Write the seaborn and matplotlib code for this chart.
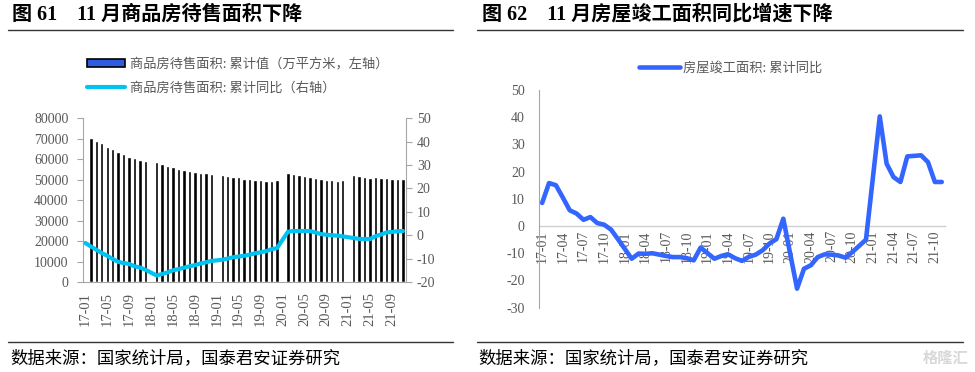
import numpy as np
import pandas as pd
import seaborn as sns
import matplotlib
matplotlib.use("Agg")
import matplotlib.pyplot as plt
from matplotlib.lines import Line2D
from matplotlib.patches import Patch

nan = np.nan

# 17-01 ... 21-11
months = [f"{y}-{m:02d}" for y in range(17, 22) for m in range(1, 13)][:59]

# 商品房待售面积: 累计值 (万平方米)
stock = [
    nan, 70500, 69100, 67800, 66200, 64900, 63700, 62600, 61300, 60400, 59800, 59000,
    nan, 58500, 57500, 56900, 56100, 55200, 54700, 54200, 53700, 53200, 53200, 52800,
    nan, 52400, 51800, 51400, 51200, 50300, 50200, 50000, 49700, 49500, 49500, 50000,
    nan, 53100, 52800, 52400, 52000, 51300, 51000, 50300, 50000, 49700, 49500, 49800,
    nan, 52400, 51800, 51500, 51000, 51100, 51000, 50700, 50300, 50200, 50200,
]

# 商品房待售面积: 累计同比 (%)
stock_yoy = [
    -3.3, -4.8, -6.2, -7.6, -8.8, -10.2, -11.4, -11.9, -12.3, -13.3, -13.8, -14.8,
    nan, -17.2, -16.6, -15.9, -15.0, -14.5, -13.9, -13.3, -12.8, -12.1, -11.6, -11.0,
    nan, -10.5, -10.0, -9.4, -9.1, -8.8, -8.3, -7.7, -7.3, -6.8, -6.0, -5.5,
    nan, 1.5, 1.8, 1.8, 1.8, 1.8, 1.2, 0.5, 0.2, 0.0, -0.2, -0.5,
    nan, -1.2, -1.6, -1.6, -1.6, -0.4, 0.3, 1.2, 1.4, 1.7, 1.8,
]

# 房屋竣工面积: 累计同比 (%)
completed_yoy = [
    8.5, 15.8, 15.0, 10.5, 5.8, 4.6, 2.3, 3.3, 1.1, 0.5, -1.3, -4.8,
    nan, -12.0, -10.1, -10.2, -10.0, -10.5, -11.0, -11.4, -11.4, -11.8, -12.6, -7.9,
    nan, -12.0, -11.0, -10.4, -11.8, -12.8, -11.3, -10.5, -8.9, -6.4, -4.8, 2.7,
    nan, -23.0, -15.7, -14.4, -11.4, -10.4, -10.5, -10.8, -11.6, -9.6, -7.3, -5.0,
    nan, 40.3, 22.9, 18.0, 16.2, 25.6, 25.8, 26.0, 23.5, 16.2, 16.2,
]

left_title = "图 61    11 月商品房待售面积下降"
right_title = "图 62    11 月房屋竣工面积同比增速下降"
bar_label = "商品房待售面积: 累计值（万平方米，左轴）"
line_label = "商品房待售面积: 累计同比（右轴）"
right_label = "房屋竣工面积: 累计同比"
source = "数据来源：国家统计局，国泰君安证券研究"

sns.set_style("white")
cjk = ["Noto Sans CJK SC", "DejaVu Sans"]
serif_cjk = ["Liberation Serif", "Noto Sans CJK SC"]
plt.rcParams["font.family"] = cjk
plt.rcParams["axes.unicode_minus"] = False

GRAY = "#595959"
SPINE = "#A6A6A6"
CYAN = "#00C3F2"
BLUE = "#3366FF"

df = pd.DataFrame({"month": months, "k": np.arange(len(months)),
                   "stock": stock, "stock_yoy": stock_yoy,
                   "completed_yoy": completed_yoy})

W, H = 975, 372
fig = plt.figure(figsize=(W / 100, H / 100), dpi=100)


def fx(px):
    return px / W


def fy(py):
    return 1 - py / H


def style_ticks(ax):
    for lab in ax.get_xticklabels() + ax.get_yticklabels():
        lab.set_family(["Liberation Serif"])
        lab.set_color(GRAY)


# ---------------- left chart ----------------
ax = fig.add_axes([fx(82.6), fy(282), fx(405.7) - fx(82.6), fy(118.3) - fy(282)])
sns.barplot(data=df.dropna(subset=["stock"]), x="month", y="stock", order=months,
            color="black", saturation=1, width=0.62, ax=ax)
ax.set_xlim(-0.5, 58.5)
ax.set_ylim(0, 80000)
ax.set_yticks(range(0, 80001, 10000))
ax.set_xlabel("")
ax.set_ylabel("")
ax.set_xticks(range(0, 59, 4))
ax.set_xticklabels(months[::4], rotation=90)
ax.set_xticks(np.arange(-0.5, 58, 4), minor=True)
ax.tick_params(axis="x", which="major", length=0, pad=7, labelsize=10.5)
ax.tick_params(axis="x", which="minor", length=4, color=SPINE, width=0.8)
ax.tick_params(axis="y", length=4, color=SPINE, width=0.8, labelsize=10, pad=6)
for s in ["top", "right"]:
    ax.spines[s].set_visible(False)
for s in ["left", "bottom"]:
    ax.spines[s].set_color(SPINE)
    ax.spines[s].set_linewidth(0.8)
style_ticks(ax)

ax2 = ax.twinx()
sns.lineplot(data=df.dropna(subset=["stock_yoy"]), x="k", y="stock_yoy",
             color=CYAN, linewidth=3, ax=ax2)
ax2.set_xlim(-0.5, 58.5)
ax2.set_ylim(-20, 50)
ax2.set_yticks(range(-20, 51, 10))
ax2.set_ylabel("")
ax2.set_xlabel("")
for s in ["top", "left", "bottom"]:
    ax2.spines[s].set_visible(False)
ax2.spines["right"].set_color(SPINE)
ax2.spines["right"].set_linewidth(0.8)
ax2.tick_params(axis="y", length=4, color=SPINE, width=0.8, labelsize=10, pad=4)
style_ticks(ax2)

handles = [Patch(facecolor="#2F5BE0", edgecolor="black", linewidth=1.2),
           Line2D([], [], color=CYAN, linewidth=3)]
fig.legend(handles, [bar_label, line_label], loc="upper left",
           bbox_to_anchor=(fx(80), fy(51)), frameon=False, fontsize=9.5,
           handlelength=2.9, handleheight=0.55, handletextpad=0.4,
           labelspacing=0.85, borderpad=0, labelcolor=GRAY)

# ---------------- right chart ----------------
bx = fig.add_axes([fx(538.7), fy(307.7), fx(945.2) - fx(538.7), fy(90) - fy(307.7)])
sns.lineplot(data=df.dropna(subset=["completed_yoy"]), x="k", y="completed_yoy",
             color=BLUE, linewidth=3.3, ax=bx)
# move the x axis to y=0 before the ticks are set (set_position resets them)
bx.spines["bottom"].set_position(("data", 0))
bx.set_xlim(-0.5, 58.5)
bx.set_ylim(-30, 50)
bx.set_yticks(range(-30, 51, 10))
bx.set_xlabel("")
bx.set_ylabel("")
bx.set_xticks(range(0, 59, 3))
bx.set_xticklabels(months[::3], rotation=90)
bx.set_xticks(np.arange(2.5, 58, 3), minor=True)
bx.tick_params(axis="x", which="major", length=0, pad=3, labelsize=10)
bx.tick_params(axis="x", which="minor", length=4, color="#BFBFBF", width=0.8)
bx.tick_params(axis="y", length=4, color=SPINE, width=0.8, labelsize=10, pad=6)
bx.spines["bottom"].set_color("#D0D0D0")
bx.spines["bottom"].set_linewidth(1.0)
bx.spines["bottom"].set_zorder(0)
bx.spines["left"].set_color(SPINE)
bx.spines["left"].set_linewidth(0.8)
for s in ["top", "right"]:
    bx.spines[s].set_visible(False)
style_ticks(bx)
bx.legend([Line2D([], [], color=BLUE, linewidth=3.3)], [right_label],
          loc="upper left", bbox_to_anchor=(fx(632), fy(55)),
          bbox_transform=fig.transFigure, frameon=False, fontsize=9.5,
          handlelength=3.1, handletextpad=0.3, borderpad=0, labelcolor=GRAY)

# ---------------- titles, rules, footers ----------------
for x0, txt in [(12, left_title), (482, right_title)]:
    fig.text(fx(x0), fy(15), txt, fontsize=14.5, fontweight="bold",
             family=serif_cjk, color="black", va="center", ha="left")
for x0, x1 in [(8, 453), (477, 963)]:
    for yy in (29.5, 342):
        fig.add_artist(Line2D([fx(x0), fx(x1)], [fy(yy), fy(yy)],
                              transform=fig.transFigure, color="#333333", linewidth=1))
for x0 in (10, 478):
    fig.text(fx(x0), fy(358), source, fontsize=12.5, color="black",
             va="center", ha="left")
fig.text(fx(968), fy(358), "格隆汇", fontsize=11, color="#D8D8D8",
         va="center", ha="right", fontweight="bold")

fig.savefig("out.png", dpi=100)
